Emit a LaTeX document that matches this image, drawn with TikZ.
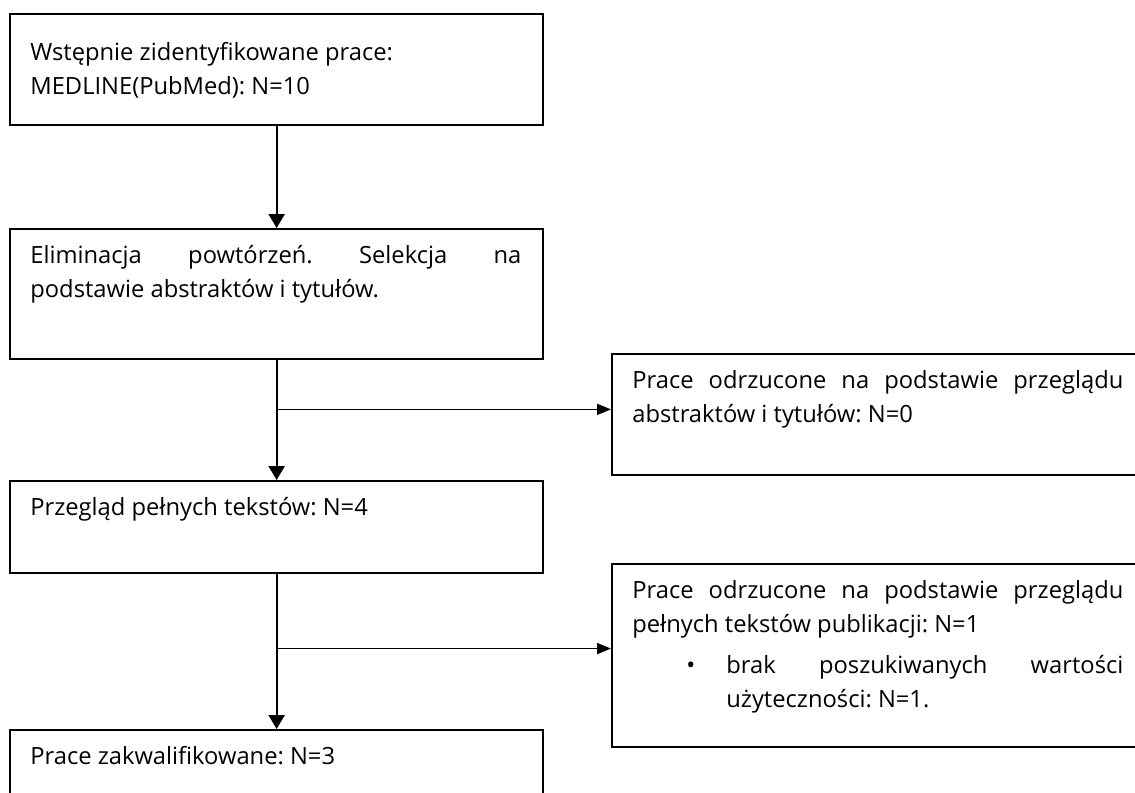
\documentclass[tikz,border=0pt]{standalone}
\usepackage{fontspec}
\setmainfont{Open Sans}
\usetikzlibrary{arrows.meta,calc}

\tikzset{
  box/.style={draw,line width=1.3pt,anchor=north west,inner sep=0pt},
  txt/.style={anchor=base west,inner sep=0pt,font=\fontsize{13.5}{19.35}\selectfont},
  flow/.style={line width=1.3pt,-{Triangle[length=0.28cm,width=0.32cm]}},
  side/.style={line width=1pt,-{Triangle[length=0.28cm,width=0.22cm]}},
}
\newcommand{\tw}{9.82cm}
\frenchspacing

\begin{document}
\begin{tikzpicture}
\useasboundingbox (0,0) rectangle (22.7,-15.84);
\clip (0,0) rectangle (22.7,-15.84);
% left column
\node[box,minimum width=10.66cm,minimum height=2.22cm] (ident) at (0.18,-0.26) {};
\node[box,minimum width=10.66cm,minimum height=2.6cm] (elim) at (0.18,-4.56) {};
\node[box,minimum width=10.66cm,minimum height=1.84cm] (full) at (0.18,-9.6) {};
\node[box,minimum width=10.66cm,minimum height=2cm] (final) at (0.18,-14.58) {};
% right column
\node[box,minimum width=11.2cm,minimum height=2.42cm] (rej1) at (12.22,-7.06) {};
\node[box,minimum width=11.2cm,minimum height=3.66cm] (rej2) at (12.22,-11.26) {};

% texts
\node[txt] (identT) at ($(ident.north west)+(0.42,-0.94)$)
  {\parbox[t]{\tw}{Wstępnie zidentyfikowane prace:\\MEDLINE(PubMed): N=10}};
\node[txt] (elimT) at ($(elim.north west)+(0.42,-0.7)$)
  {\parbox[t]{\tw}{Eliminacja powtórzeń. Selekcja na\linebreak podstawie abstraktów i tytułów.}};
\node[txt] (fullT) at ($(full.north west)+(0.42,-0.7)$) {Przegląd pełnych tekstów: N=4};
\node[txt] (finalT) at ($(final.north west)+(0.42,-0.7)$) {Prace zakwalifikowane: N=3};
\node[txt] (rej1T) at ($(rej1.north west)+(0.42,-0.7)$)
  {\parbox[t]{\tw}{Prace odrzucone na podstawie przeglądu\linebreak abstraktów i tytułów: N=0}};
\node[txt] (rej2T) at ($(rej2.north west)+(0.42,-0.7)$)
  {\parbox[t]{\tw}{Prace odrzucone na podstawie przeglądu\linebreak pełnych tekstów publikacji: N=1}};
\node[txt] (rej2B) at ($(rej2.north west)+(1.5,-2.2)$) {\textbullet};
\node[txt] (rej2I) at ($(rej2.north west)+(2.3,-2.2)$)
  {\parbox[t]{7.94cm}{brak poszukiwanych wartości\linebreak użyteczności: N=1.}};

% connectors
\coordinate (b1) at ($(elim.south)!0.41!(full.north)$);
\coordinate (b2) at ($(full.south)!0.48!(final.north)$);
\draw[flow] (ident.south) -- (elim.north);
\draw[flow] (elim.south) -- (full.north);
\draw[flow] (full.south) -- (final.north);
\draw[side] (b1) -- (b1 -| rej1.west);
\draw[side] (b2) -- (b2 -| rej2.west);
\end{tikzpicture}
\end{document}
